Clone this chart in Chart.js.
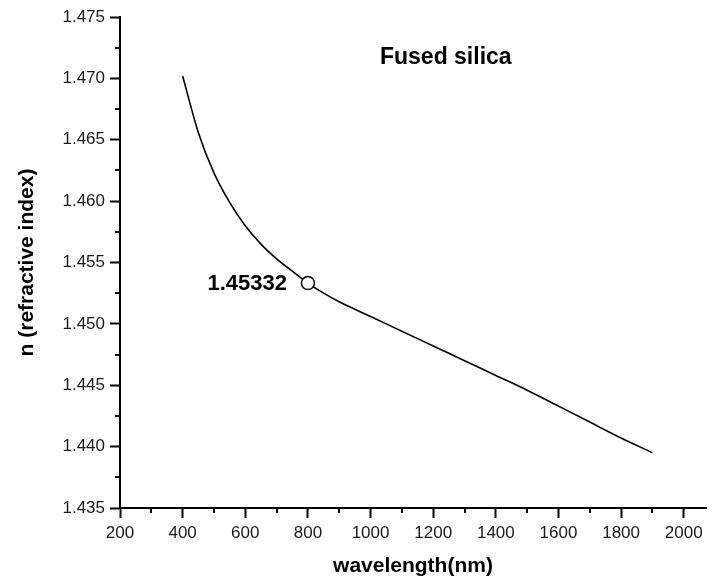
<!DOCTYPE html>
<html><head><meta charset="utf-8">
<script src="https://cdn.jsdelivr.net/npm/chart.js@4/dist/chart.umd.min.js"></script>
<style>html,body{margin:0;padding:0;background:#fff}canvas{display:block}</style>
</head><body>
<canvas id="c" width="714" height="584"></canvas>
<script>
// ---- data ----
const wavelengths = [400,450,500,550,600,650,700,750,800,850,900,1000,1100,1200,1300,1400,1500,1600,1700,1800,1900];
const refractiveIndex = [1.4702,1.4656,1.4623,1.4599,1.4580,1.4565,1.4553,1.4543,1.45332,1.4525,1.4518,1.4506,1.4494,1.4482,1.4470,1.4458,1.4446,1.4433,1.4420,1.4407,1.4395];
const markedWavelength = [800];
const markedIndex = [1.45332];
const xTickValues = [200,400,600,800,1000,1200,1400,1600,1800,2000];
const xMinorTicks = [300,500,700,900,1100,1300,1500,1700,1900];
const yTickValues = [1.435,1.440,1.445,1.450,1.455,1.460,1.465,1.470,1.475];
const yMinorTicks = [1.4375,1.4425,1.4475,1.4525,1.4575,1.4625,1.4675,1.4725];
const markLabel = '1.45332';
const materialLabel = 'Fused silica';
const materialAnchor = {x: 1030, y: 1.4717};

const FONT = 'Arial, "Liberation Sans", sans-serif';

const decor = {
  id: 'decor',
  afterDatasetsDraw(chart) {
    const {ctx, scales: {x, y}, chartArea} = chart;
    ctx.save();
    ctx.strokeStyle = '#000';
    ctx.lineWidth = 2;
    ctx.beginPath();
    xMinorTicks.forEach(v => {
      const px = Math.round(x.getPixelForValue(v));
      ctx.moveTo(px, chartArea.bottom);
      ctx.lineTo(px, chartArea.bottom + 5);
    });
    yMinorTicks.forEach(v => {
      const py = Math.round(y.getPixelForValue(v));
      ctx.moveTo(chartArea.left, py);
      ctx.lineTo(chartArea.left - 5, py);
    });
    ctx.stroke();

    ctx.fillStyle = '#000';
    ctx.font = 'bold 22px ' + FONT;
    ctx.textAlign = 'right';
    ctx.textBaseline = 'middle';
    ctx.fillText(markLabel, x.getPixelForValue(markedWavelength[0]) - 21, y.getPixelForValue(markedIndex[0]) + 1);

    ctx.font = 'bold 23px ' + FONT;
    ctx.textAlign = 'left';
    ctx.fillText(materialLabel, x.getPixelForValue(materialAnchor.x), y.getPixelForValue(materialAnchor.y));
    ctx.restore();
  }
};

new Chart(document.getElementById('c'), {
  type: 'line',
  data: {
    datasets: [
      {
        data: markedWavelength.map((w, i) => ({x: w, y: markedIndex[i]})),
        showLine: false,
        pointRadius: 6.5,
        pointBackgroundColor: '#fff',
        pointBorderColor: '#000',
        pointBorderWidth: 1.5,
        order: 0
      },
      {
        data: wavelengths.map((w, i) => ({x: w, y: refractiveIndex[i]})),
        borderColor: '#000',
        borderWidth: 1.6,
        pointRadius: 0,
        cubicInterpolationMode: 'monotone',
        fill: false,
        order: 1
      }
    ]
  },
  options: {
    responsive: false,
    animation: false,
    devicePixelRatio: 1,
    layout: {padding: {top: 17, right: 0, bottom: 0, left: 0}},
    plugins: {legend: {display: false}, tooltip: {enabled: false}},
    scales: {
      x: {
        type: 'linear',
        min: 200,
        max: 2071,
        afterBuildTicks: s => { s.ticks = xTickValues.map(v => ({value: v})); },
        afterFit: s => { s.height = 76; },
        border: {display: true, color: '#000', width: 2},
        grid: {drawOnChartArea: false, drawTicks: true, tickLength: 10, tickWidth: 2, tickColor: '#000'},
        ticks: {color: '#1a1a1a', font: {family: FONT, size: 17}, padding: 5, maxRotation: 0, autoSkip: false, callback: v => String(v)},
        title: {display: true, text: 'wavelength(nm)', color: '#000', font: {family: FONT, size: 21, weight: 'bold'}, padding: {top: 0, bottom: 5}}
      },
      y: {
        type: 'linear',
        min: 1.435,
        max: 1.475,
        afterBuildTicks: s => { s.ticks = yTickValues.map(v => ({value: v})); },
        afterFit: s => { s.width = 120; },
        border: {display: true, color: '#000', width: 2},
        grid: {drawOnChartArea: false, drawTicks: true, tickLength: 10, tickWidth: 2, tickColor: '#000'},
        ticks: {color: '#1a1a1a', font: {family: FONT, size: 17}, padding: 5, autoSkip: false, callback: v => Number(v).toFixed(3)},
        title: {display: true, text: 'n (refractive index)', color: '#000', font: {family: FONT, size: 21, weight: 'bold'}, padding: {top: 15, bottom: 0}}
      }
    }
  },
  plugins: [decor]
});
</script>
</body></html>
